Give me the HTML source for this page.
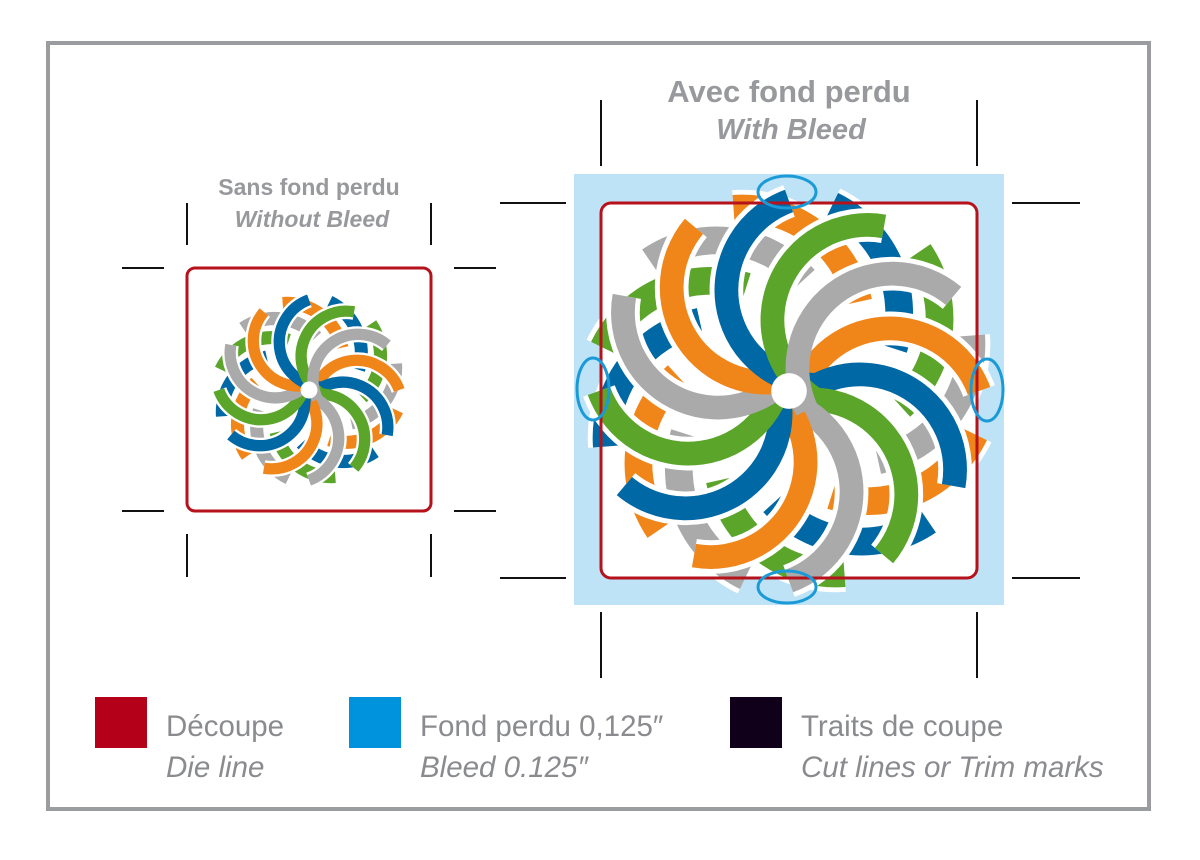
<!DOCTYPE html>
<html><head><meta charset="utf-8"><style>
html,body{margin:0;padding:0;background:#fff;}
body{width:1200px;height:855px;overflow:hidden;font-family:"Liberation Sans",sans-serif;}
</style></head><body>
<svg width="1200" height="855" viewBox="0 0 1200 855" xmlns="http://www.w3.org/2000/svg">
<defs>
<path id="pa" d="M3,13 A48 48 0 0 1 96,0" fill="none"/>
<path id="pb" d="M45,35 A60 60 0 0 0 92,-28" fill="none"/>
<g id="ros">
 <g stroke="#fff" stroke-width="19">
  <use href="#pb" transform="rotate(0)"/><use href="#pb" transform="rotate(30)"/><use href="#pb" transform="rotate(60)"/><use href="#pb" transform="rotate(90)"/><use href="#pb" transform="rotate(120)"/><use href="#pb" transform="rotate(150)"/><use href="#pb" transform="rotate(180)"/><use href="#pb" transform="rotate(210)"/><use href="#pb" transform="rotate(240)"/><use href="#pb" transform="rotate(270)"/><use href="#pb" transform="rotate(300)"/><use href="#pb" transform="rotate(330)"/>
 </g>
 <g stroke-width="14">
  <use href="#pb" stroke="#aaaaaa" transform="rotate(0)"/><use href="#pb" stroke="#f0861a" transform="rotate(30)"/><use href="#pb" stroke="#0068a4" transform="rotate(60)"/><use href="#pb" stroke="#5aa52a" transform="rotate(90)"/><use href="#pb" stroke="#aaaaaa" transform="rotate(120)"/><use href="#pb" stroke="#f0861a" transform="rotate(150)"/><use href="#pb" stroke="#0068a4" transform="rotate(180)"/><use href="#pb" stroke="#5aa52a" transform="rotate(210)"/><use href="#pb" stroke="#aaaaaa" transform="rotate(240)"/><use href="#pb" stroke="#f0861a" transform="rotate(270)"/><use href="#pb" stroke="#0068a4" transform="rotate(300)"/><use href="#pb" stroke="#5aa52a" transform="rotate(330)"/>
 </g>
 <g stroke="#fff" stroke-width="17">
  <use href="#pa" transform="rotate(0)"/><use href="#pa" transform="rotate(30)"/><use href="#pa" transform="rotate(60)"/><use href="#pa" transform="rotate(90)"/><use href="#pa" transform="rotate(120)"/><use href="#pa" transform="rotate(150)"/><use href="#pa" transform="rotate(180)"/><use href="#pa" transform="rotate(210)"/><use href="#pa" transform="rotate(240)"/><use href="#pa" transform="rotate(270)"/><use href="#pa" transform="rotate(300)"/><use href="#pa" transform="rotate(330)"/>
 </g>
 <g stroke-width="12">
  <use href="#pa" stroke="#f0861a" transform="rotate(0)"/><use href="#pa" stroke="#0068a4" transform="rotate(30)"/><use href="#pa" stroke="#5aa52a" transform="rotate(60)"/><use href="#pa" stroke="#aaaaaa" transform="rotate(90)"/><use href="#pa" stroke="#f0861a" transform="rotate(120)"/><use href="#pa" stroke="#0068a4" transform="rotate(150)"/><use href="#pa" stroke="#5aa52a" transform="rotate(180)"/><use href="#pa" stroke="#aaaaaa" transform="rotate(210)"/><use href="#pa" stroke="#f0861a" transform="rotate(240)"/><use href="#pa" stroke="#0068a4" transform="rotate(270)"/><use href="#pa" stroke="#5aa52a" transform="rotate(300)"/><use href="#pa" stroke="#aaaaaa" transform="rotate(330)"/>
 </g>
 <circle r="9" fill="#fff"/>
</g>
</defs>
<rect x="48" y="43" width="1101" height="766" fill="none" stroke="#9a9ca0" stroke-width="4"/>

<rect x="574" y="174" width="430" height="431" fill="#bee3f7"/>
<rect x="601" y="203" width="376" height="375" rx="10" fill="#fff"/>
<g transform="translate(789,391) scale(1.98)"><use href="#ros"/></g>
<rect x="601" y="203" width="376" height="375" rx="10" fill="none" stroke="#b5121b" stroke-width="3"/>
<g fill="none" stroke="#1a9ad6" stroke-width="3">
<ellipse cx="787" cy="192" rx="29" ry="16"/>
<ellipse cx="593" cy="389" rx="16" ry="31"/>
<ellipse cx="987" cy="390" rx="16" ry="31"/>
<ellipse cx="787" cy="587" rx="29" ry="16"/>
</g>
<g stroke="#111" stroke-width="2">
<line x1="601" y1="100" x2="601" y2="166"/><line x1="977" y1="100" x2="977" y2="166"/>
<line x1="601" y1="612" x2="601" y2="678"/><line x1="977" y1="612" x2="977" y2="678"/>
<line x1="500" y1="203" x2="566" y2="203"/><line x1="1012" y1="203" x2="1080" y2="203"/>
<line x1="500" y1="578" x2="566" y2="578"/><line x1="1012" y1="578" x2="1080" y2="578"/>
<line x1="187" y1="203" x2="187" y2="245"/><line x1="431" y1="203" x2="431" y2="245"/>
<line x1="187" y1="534" x2="187" y2="577"/><line x1="431" y1="534" x2="431" y2="577"/>
<line x1="122" y1="268" x2="164" y2="268"/><line x1="454" y1="268" x2="496" y2="268"/>
<line x1="122" y1="511" x2="164" y2="511"/><line x1="454" y1="511" x2="496" y2="511"/>
</g>
<g transform="translate(309,390) scale(0.94)"><use href="#ros"/></g>
<rect x="187" y="268" width="244" height="243" rx="8" fill="none" stroke="#b5121b" stroke-width="3"/>

<g fill="#98999c" font-weight="bold" text-anchor="middle">
<text x="789" y="102" font-size="31">Avec fond perdu</text>
<text x="791" y="139" font-size="29" font-style="italic">With Bleed</text>
<text x="309" y="195" font-size="23">Sans fond perdu</text>
<text x="312" y="227" font-size="23" font-style="italic">Without Bleed</text>
</g>

<rect x="95" y="697" width="52" height="51" fill="#b5001a"/>
<rect x="349" y="697" width="52" height="51" fill="#0093dd"/>
<rect x="730" y="697" width="52" height="51" fill="#10001a"/>
<g fill="#8a8b8e" font-size="29.5">
<text x="166" y="736">Découpe</text>
<text x="166" y="777" font-style="italic">Die line</text>
<text x="420" y="736">Fond perdu 0,125″</text>
<text x="420" y="777" font-style="italic">Bleed 0.125″</text>
<text x="801" y="736">Traits de coupe</text>
<text x="801" y="777" font-style="italic">Cut lines or Trim marks</text>
</g>
</svg>
</body></html>
